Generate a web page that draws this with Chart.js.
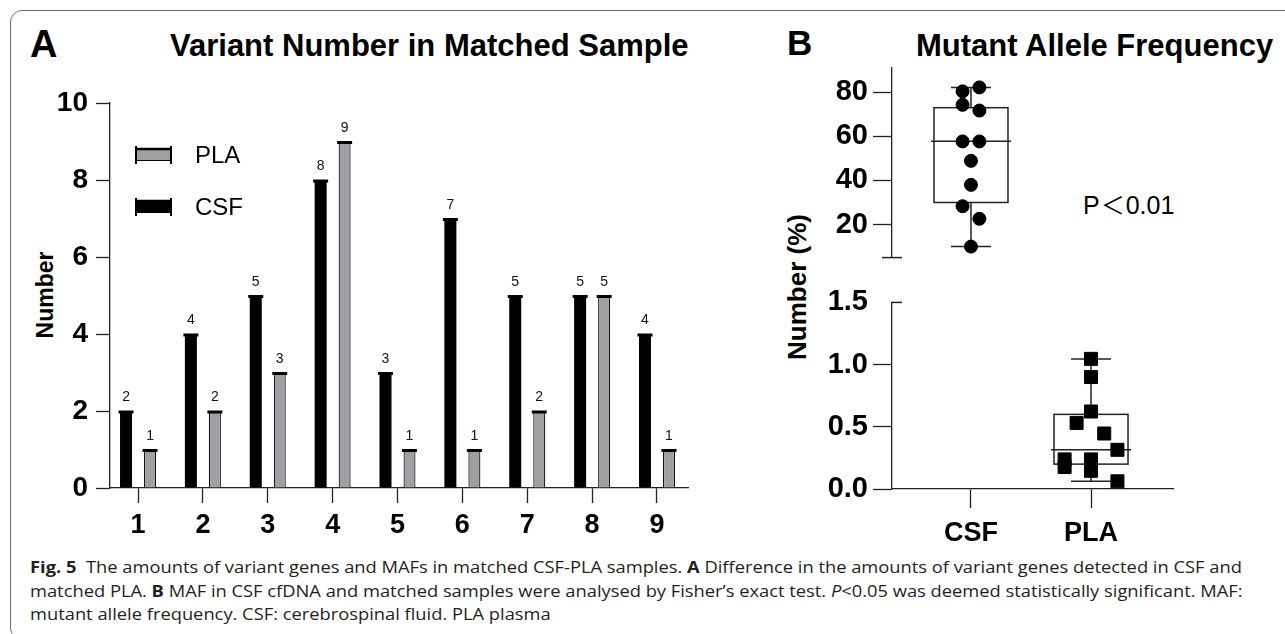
<!DOCTYPE html>
<html lang="en"><head>
<meta charset="utf-8">
<title>Fig. 5</title>
<script src="https://cdn.jsdelivr.net/npm/chart.js@4"></script>
<style>
*{box-sizing:border-box;margin:0;padding:0}
body{width:1285px;height:634px;overflow:hidden;background:#fff;position:relative;font-family:'Liberation Sans',Arial,sans-serif;color:#000}
.frame{position:absolute;left:10px;top:10px;width:1400px;height:630px;border:1.5px solid #6e6e6e;border-radius:12px}
.t{position:absolute;line-height:1;white-space:nowrap;font-weight:bold}
.rot{position:absolute;line-height:1;white-space:nowrap;font-weight:bold;transform:translate(-50%,-50%) rotate(-90deg)}
.box{position:absolute}
.cap{position:absolute;left:30px;top:556px;font-family:'Open Sans','Noto Sans',sans-serif;font-size:16px;line-height:23.5px;color:#231f20;transform-origin:0 0}
.cap div{white-space:nowrap}
.cjk{font-family:'Noto Sans CJK SC',sans-serif;font-size:24px;margin:0 1px}
</style></head><body>
<div class="frame"></div>
<div class="t" style="left:30px;top:25px;font-size:38px">A</div>
<div class="t" style="left:170px;top:30px;font-size:31px">Variant Number in Matched Sample</div>
<div class="t" style="left:787px;top:25px;font-size:35px">B</div>
<div class="t" style="left:916px;top:30px;font-size:31px">Mutant Allele Frequency</div>
<div class="rot" style="left:45px;top:295px;font-size:23px">Number</div>
<div class="rot" style="left:797px;top:287px;font-size:26px">Number (%)</div>
<div class="t" style="left:1083px;top:192px;font-size:25px;font-weight:normal">P<span class="cjk">＜</span>0.01</div>
<div class="box" style="left:0;top:0"><canvas id="c-a" width="740" height="540"></canvas></div>
<div class="box" style="left:740px;top:0"><canvas id="c-btop" width="545" height="280"></canvas></div>
<div class="box" style="left:740px;top:280px"><canvas id="c-bbot" width="545" height="270"></canvas></div>
<div class="cap" id="cap">
<div><b>Fig. 5</b>&nbsp; The amounts of variant genes and MAFs in matched CSF-PLA samples. <b>A</b> Difference in the amounts of variant genes detected in CSF and</div>
<div>matched PLA. <b>B</b> MAF in CSF cfDNA and matched samples were analysed by Fisher’s exact test. <i>P</i>&lt;0.05 was deemed statistically significant. MAF:</div>
<div>mutant allele frequency. CSF: cerebrospinal fluid. PLA plasma</div>
</div>
<script>
// panel A: variant counts per matched sample
const samples=[1,2,3,4,5,6,7,8,9];
const csfCounts=[2,4,5,8,3,7,5,5,4];
const plaCounts=[1,2,3,9,1,1,2,5,1];
const countTicks=[0,2,4,6,8,10];
// panel B: mutant allele frequency (%)
const groups=['CSF','PLA'];
const csfMaf=[80.4,82.2,74.3,71.7,57.7,57.7,48.9,38,28.3,22.6,10];
const csfJitter=[-0.07,0.07,-0.07,0.07,-0.07,0.07,0,0,-0.07,0.07,0];
const plaMaf=[1.046,0.9,0.623,0.531,0.446,0.315,0.238,0.177,0.238,0.146,0.062];
const plaJitter=[0,0,0,-0.12,0.11,0.22,-0.22,-0.22,0,0,0.22];
const csfBox=[10,30,57.8,73,82.2];      // min,q1,median,q3,max
const plaBox=[0.062,0.2,0.315,0.6,1.046];
const topTicks=[20,40,60,80];
const bottomTicks=[0,0.5,1,1.5];

const FONT="'Liberation Sans', Arial, sans-serif";
const INK='#222';
const GRAY='#a0a0a4';
Chart.defaults.font.family=FONT;
Chart.defaults.color='#000';
Chart.defaults.animation=false;

const fixTicks=list=>s=>{s.ticks=list.map(v=>({value:v}))};
const noPlug={legend:{display:false},tooltip:{enabled:false}};
function line(ctx,x1,y1,x2,y2){ctx.beginPath();ctx.moveTo(x1,y1);ctx.lineTo(x2,y2);ctx.stroke()}

// caps, value labels and legend for panel A
const barExtras={id:'barExtras',afterDatasetsDraw(chart){
  const ctx=chart.ctx,a=chart.chartArea;
  ctx.save();
  chart.data.datasets.forEach((ds,di)=>{
    chart.getDatasetMeta(di).data.forEach((bar,i)=>{
      ctx.strokeStyle='#000';ctx.lineWidth=3;
      line(ctx,bar.x-bar.width/2-1.5,bar.y+1,bar.x+bar.width/2+1.5,bar.y+1);
      ctx.fillStyle='#111';ctx.font='14px '+FONT;ctx.textAlign='center';ctx.textBaseline='alphabetic';
      ctx.fillText(ds.data[i].y,bar.x,bar.y-10);
    });
  });
  // legend: PLA above CSF
  [...chart.data.datasets].reverse().forEach((ds,k)=>{
    const x=a.left+25,cy=a.top+52+k*52;
    ctx.fillStyle=ds.backgroundColor;ctx.fillRect(x,cy-6,37,12);
    ctx.strokeStyle='#000';ctx.lineWidth=1;ctx.strokeRect(x+0.5,cy-5.5,36,11);
    ctx.lineWidth=2.5;line(ctx,x,cy-6,x+37,cy-6);
    ctx.lineWidth=2;line(ctx,x+1,cy-9,x+1,cy+9);line(ctx,x+36,cy-9,x+36,cy+9);
    ctx.fillStyle='#000';ctx.font='24px '+FONT;ctx.textAlign='left';ctx.textBaseline='middle';
    ctx.fillText(ds.label,x+60,cy+1);
  });
  ctx.restore();
}};

new Chart(document.getElementById('c-a'),{type:'bar',
  data:{datasets:[
    {label:'CSF',data:samples.map((s,i)=>({x:s,y:csfCounts[i]})),backgroundColor:'#000',borderWidth:0,categoryPercentage:0.74,barPercentage:0.5},
    {label:'PLA',data:samples.map((s,i)=>({x:s,y:plaCounts[i]})),backgroundColor:GRAY,borderColor:'#111',borderWidth:{left:1.2,right:1.2,top:0,bottom:0},borderSkipped:false,categoryPercentage:0.74,barPercentage:0.5}
  ]},
  options:{responsive:false,animation:false,
    layout:{padding:{left:0,right:52,top:103,bottom:0},autoPadding:false},
    plugins:noPlug,
    scales:{
      x:{type:'linear',min:0.568,max:9.478,offset:false,afterBuildTicks:fixTicks(samples),
        ticks:{font:{size:27,weight:'bold'},color:'#000',padding:6},
        grid:{offset:false,drawOnChartArea:false,tickLength:15,tickColor:INK,tickWidth:1.3},
        border:{color:INK,width:1.3},afterFit:s=>{s.height=52}},
      y:{min:0,max:10,afterBuildTicks:fixTicks(countTicks),
        ticks:{font:{size:28,weight:'bold'},color:'#000',padding:8},
        grid:{drawOnChartArea:false,tickLength:14,tickColor:INK,tickWidth:1.3},
        border:{color:INK,width:1.3},afterFit:s=>{s.width=110}}
    }},
  plugins:[barExtras]});

// box, whiskers and median for panel B
function boxPlot(boxes){return{id:'boxPlot',beforeDatasetsDraw(chart){
  const {ctx,scales:{x,y}}=chart;
  ctx.save();ctx.strokeStyle=INK;ctx.lineWidth=1.5;
  boxes.forEach(([pos,s])=>{
    const cx=x.getPixelForValue(pos);
    const [mn,q1,md,q3,mx]=s.map(v=>y.getPixelForValue(v));
    ctx.strokeRect(cx-37,q3,74,q1-q3);
    line(ctx,cx-40,md,cx+40,md);
    line(ctx,cx,q3,cx,mx);line(ctx,cx,q1,cx,mn);
    line(ctx,cx-20,mx,cx+20,mx);line(ctx,cx-20,mn,cx+20,mn);
  });
  ctx.restore();
}}}
function breakMark(where){return{id:'breakMark',afterDraw(chart){
  const ctx=chart.ctx,a=chart.chartArea;
  ctx.save();ctx.strokeStyle=INK;ctx.lineWidth=1.5;
  if(where==='bottom')line(ctx,a.left-10,a.bottom,a.left+10,a.bottom);
  else line(ctx,a.left,a.top,a.left+10,a.top);
  ctx.restore();
}}}
const yFont={size:29,weight:'bold'};

new Chart(document.getElementById('c-btop'),{type:'scatter',
  data:{datasets:[{label:groups[0],data:csfMaf.map((v,i)=>({x:1+csfJitter[i],y:v})),
    pointStyle:'circle',pointRadius:6.5,backgroundColor:'#000',borderColor:'#000'}]},
  options:{responsive:false,animation:false,
    layout:{padding:{left:0,right:112,top:68,bottom:16},autoPadding:false},
    plugins:noPlug,
    scales:{
      x:{type:'linear',min:0.342,max:2.683,display:false},
      y:{min:5,max:91,afterBuildTicks:fixTicks(topTicks),
        ticks:{font:yFont,color:'#000',padding:5},
        grid:{drawOnChartArea:false,tickLength:19,tickColor:INK,tickWidth:1.3},
        border:{color:INK,width:1.3},afterFit:s=>{s.width=152}}
    }},
  plugins:[boxPlot([[1,csfBox]]),breakMark('bottom')]});

new Chart(document.getElementById('c-bbot'),{type:'scatter',
  data:{datasets:[{label:groups[1],data:plaMaf.map((v,i)=>({x:2+plaJitter[i],y:v})),
    pointStyle:'rect',pointRadius:9.2,backgroundColor:'#000',borderColor:'#000'}]},
  options:{responsive:false,animation:false,
    layout:{padding:{left:0,right:112,top:15,bottom:0},autoPadding:false},
    plugins:noPlug,
    scales:{
      x:{type:'linear',min:0.342,max:2.683,afterBuildTicks:fixTicks([1,2]),
        ticks:{font:{size:27,weight:'bold'},color:'#000',padding:9,callback:v=>groups[v-1]},
        grid:{drawOnChartArea:false,tickLength:19,tickColor:INK,tickWidth:1.3},
        border:{color:INK,width:1.3},afterFit:s=>{s.height=61}},
      y:{min:0,max:1.5,afterBuildTicks:fixTicks(bottomTicks),
        ticks:{font:yFont,color:'#000',padding:5,callback:v=>v.toFixed(1)},
        grid:{drawOnChartArea:false,tickLength:19,tickWidth:1.3,tickColor:c=>c.tick&&c.tick.value===1.5?'rgba(0,0,0,0)':INK},
        border:{color:INK,width:1.3},afterFit:s=>{s.width=152}}
    }},
  plugins:[boxPlot([[2,plaBox]]),breakMark('top')]});

// squeeze caption so the first line spans like the original
const cap=document.getElementById('cap');
const w=cap.firstElementChild.scrollWidth;
cap.style.transform='scaleX('+(1213/w)+')';
</script></body></html>
